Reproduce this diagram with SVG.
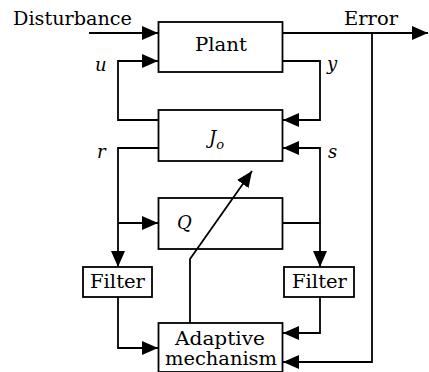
<svg xmlns="http://www.w3.org/2000/svg" width="429" height="372" viewBox="0 0 429 372">
<style>
.box{fill:#fff;stroke:#000;stroke-width:1.8}
.ln{fill:none;stroke:#000;stroke-width:1.8;marker-end:url(#ah)}
text{font-family:"DejaVu Serif","Liberation Serif",serif;font-size:18px;fill:#000;font-weight:normal}
.it{font-style:italic}
</style>
<defs>
<marker id="ah" markerUnits="userSpaceOnUse" markerWidth="18" markerHeight="14" viewBox="0 0 18 14" refX="16" refY="7" orient="auto">
<path d="M0,0 L16,7 L0,14 Z" fill="#000"/>
</marker>
</defs>
<rect width="429" height="372" fill="#fff"/>
<g id="plant"><rect class="box" x="158.5" y="22" width="124" height="50"/><text x="221" y="51" text-anchor="middle" textLength="52" lengthAdjust="spacingAndGlyphs">Plant</text></g>
<g id="jo"><rect class="box" x="158.5" y="110" width="124" height="51"/><text class="it" x="209" y="144">J<tspan font-size="13" dy="5">o</tspan></text></g>
<g id="q"><rect class="box" x="158.5" y="198" width="124" height="51"/><text class="it" x="177" y="229" font-size="19">Q</text></g>
<g id="filter-left"><rect class="box" x="83" y="267" width="69" height="30"/><text x="117.5" y="288" text-anchor="middle" textLength="55" lengthAdjust="spacingAndGlyphs">Filter</text></g>
<g id="filter-right"><rect class="box" x="284" y="267" width="70" height="30"/><text x="319.5" y="288" text-anchor="middle" textLength="55" lengthAdjust="spacingAndGlyphs">Filter</text></g>
<g id="adaptive"><rect class="box" x="158.5" y="323" width="124" height="49"/><text x="220" y="345" text-anchor="middle" textLength="90" lengthAdjust="spacingAndGlyphs">Adaptive</text><text x="221" y="365" text-anchor="middle" textLength="112" lengthAdjust="spacingAndGlyphs">mechanism</text></g>
<g id="labels">
<text x="13" y="25" textLength="119" lengthAdjust="spacingAndGlyphs">Disturbance</text>
<text x="344" y="25" textLength="54" lengthAdjust="spacingAndGlyphs">Error</text>
<text class="it" x="95" y="71">u</text>
<text class="it" x="97" y="158">r</text>
<text class="it" x="327" y="70">y</text>
<text class="it" x="328" y="158">s</text>
</g>
<g id="connectors">
<path class="ln" d="M89 33 H158"/>
<path class="ln" d="M282 33 H428"/>
<path class="ln" d="M372 33 V362 H283"/>
<path class="ln" d="M282 61 H320 V120 H283"/>
<path class="ln" d="M158 120 H118 V61 H158"/>
<path class="ln" d="M158 148 H118 V267"/>
<path class="ln" d="M118 223 H158"/>
<path class="ln" d="M282 223 H320 V267"/>
<path class="ln" d="M320 223 V148 H283"/>
<path class="ln" d="M118 297 V348 H158"/>
<path class="ln" d="M320 297 V333 H283"/>
<path class="ln" d="M190 323 V259 L252 171"/>
</g>
</svg>
